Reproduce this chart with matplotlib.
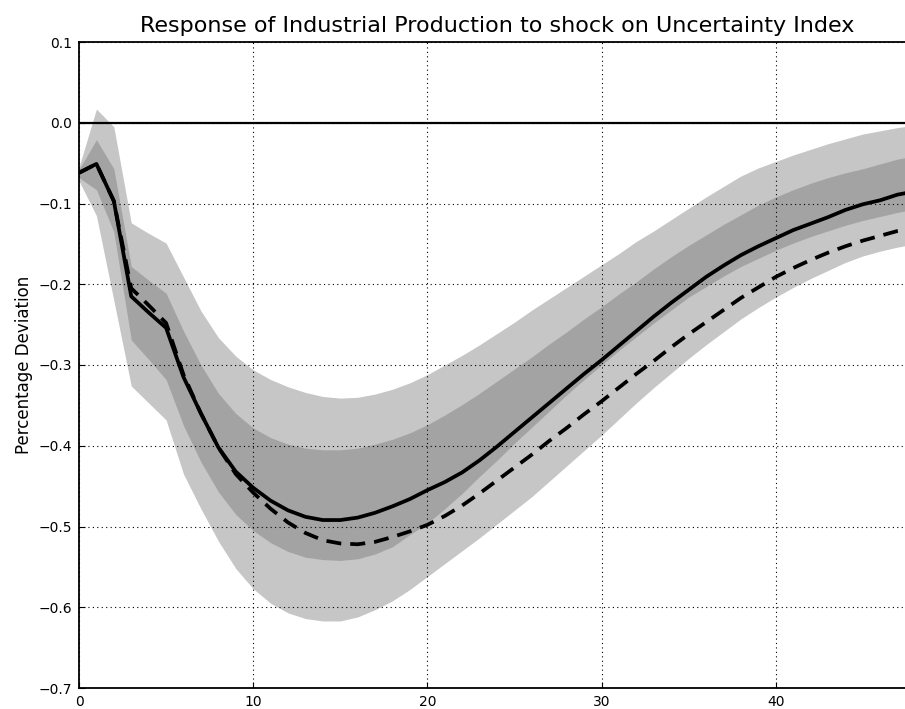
import numpy as np
import matplotlib
matplotlib.use("Agg")
import matplotlib.pyplot as plt

# horizon (periods after the shock)
periods = list(range(49))

# median response (solid)
median = [-0.062, -0.051, -0.097, -0.215, -0.235, -0.254, -0.315, -0.360, -0.402, -0.432,
          -0.452, -0.468, -0.480, -0.488, -0.492, -0.492, -0.489, -0.483, -0.475, -0.466,
          -0.455, -0.445, -0.433, -0.418, -0.401, -0.383, -0.365, -0.347, -0.329, -0.311,
          -0.294, -0.276, -0.258, -0.240, -0.223, -0.207, -0.191, -0.177, -0.164, -0.153,
          -0.143, -0.133, -0.125, -0.117, -0.108, -0.101, -0.096, -0.089, -0.085]

# point estimate (dashed)
point = [-0.062, -0.051, -0.097, -0.205, -0.226, -0.248, -0.312, -0.360, -0.402, -0.435,
         -0.458, -0.478, -0.495, -0.508, -0.517, -0.521, -0.522, -0.519, -0.513, -0.506,
         -0.498, -0.487, -0.474, -0.459, -0.443, -0.427, -0.411, -0.394, -0.378, -0.361,
         -0.345, -0.328, -0.311, -0.295, -0.278, -0.262, -0.247, -0.232, -0.217, -0.204,
         -0.191, -0.180, -0.170, -0.161, -0.153, -0.146, -0.140, -0.134, -0.130]

# outer band (light grey)
outer_hi = [-0.055, 0.017, -0.005, -0.124, -0.137, -0.149, -0.191, -0.233, -0.266, -0.289,
            -0.306, -0.318, -0.327, -0.334, -0.339, -0.341, -0.340, -0.336, -0.330, -0.322,
            -0.312, -0.300, -0.288, -0.275, -0.261, -0.247, -0.232, -0.218, -0.204, -0.190,
            -0.176, -0.162, -0.147, -0.134, -0.120, -0.106, -0.092, -0.079, -0.066, -0.056,
            -0.048, -0.040, -0.033, -0.026, -0.020, -0.014, -0.010, -0.006, -0.003]
outer_lo = [-0.072, -0.115, -0.220, -0.326, -0.347, -0.368, -0.435, -0.478, -0.518, -0.552,
            -0.577, -0.595, -0.607, -0.614, -0.617, -0.617, -0.612, -0.603, -0.592, -0.578,
            -0.562, -0.546, -0.530, -0.514, -0.497, -0.480, -0.463, -0.444, -0.425, -0.406,
            -0.387, -0.367, -0.347, -0.328, -0.310, -0.292, -0.275, -0.259, -0.243, -0.229,
            -0.216, -0.204, -0.193, -0.183, -0.173, -0.165, -0.159, -0.154, -0.150]

# inner band (dark grey)
inner_hi = [-0.058, -0.021, -0.057, -0.178, -0.195, -0.211, -0.258, -0.300, -0.335, -0.360,
            -0.378, -0.390, -0.398, -0.403, -0.405, -0.405, -0.403, -0.398, -0.392, -0.384,
            -0.374, -0.362, -0.349, -0.335, -0.320, -0.305, -0.290, -0.274, -0.259, -0.243,
            -0.228, -0.212, -0.197, -0.181, -0.166, -0.152, -0.139, -0.126, -0.114, -0.102,
            -0.092, -0.083, -0.075, -0.068, -0.062, -0.057, -0.051, -0.045, -0.041]
inner_lo = [-0.068, -0.083, -0.135, -0.269, -0.293, -0.318, -0.375, -0.420, -0.457, -0.485,
            -0.505, -0.520, -0.531, -0.538, -0.541, -0.542, -0.540, -0.534, -0.525, -0.510,
            -0.496, -0.478, -0.459, -0.438, -0.418, -0.397, -0.377, -0.357, -0.337, -0.318,
            -0.300, -0.282, -0.265, -0.248, -0.232, -0.216, -0.203, -0.190, -0.178, -0.168,
            -0.158, -0.149, -0.141, -0.134, -0.127, -0.121, -0.116, -0.111, -0.107]

xticks = [0, 10, 20, 30, 40]
yticks = [-0.7, -0.6, -0.5, -0.4, -0.3, -0.2, -0.1, 0.0, 0.1]

fig = plt.figure(figsize=(9.05, 7.09), dpi=100)
# axes run a little past the right edge, like the cropped original
ax = fig.add_axes([79 / 905, 21 / 709, 836 / 905, 646 / 709])

ax.fill_between(periods, outer_lo, outer_hi, color="#c6c6c6", lw=0)
ax.fill_between(periods, inner_lo, inner_hi, color="#a3a3a3", lw=0)
ax.axhline(0, color="k", lw=1.6)
ax.plot(periods, median, color="k", lw=2.7)
ax.plot(periods, point, color="k", lw=2.7, linestyle=(0, (4, 2.4)))

ax.set_xlim(0, 48)
ax.set_ylim(-0.7, 0.1)
ax.set_xticks(xticks)
ax.set_yticks(yticks)
ax.grid(True, color="k", linestyle=(0, (1, 3)), lw=0.8)
ax.set_axisbelow(False)
ax.tick_params(direction="in", length=4, labelsize=10, pad=5)
for s in ax.spines.values():
    s.set_linewidth(1.3)

ax.set_title("Response of Industrial Production to shock on Uncertainty Index",
             fontsize=16, pad=7)
ax.set_ylabel("Percentage Deviation", fontsize=12, labelpad=4)

fig.savefig("out.png", dpi=100)
